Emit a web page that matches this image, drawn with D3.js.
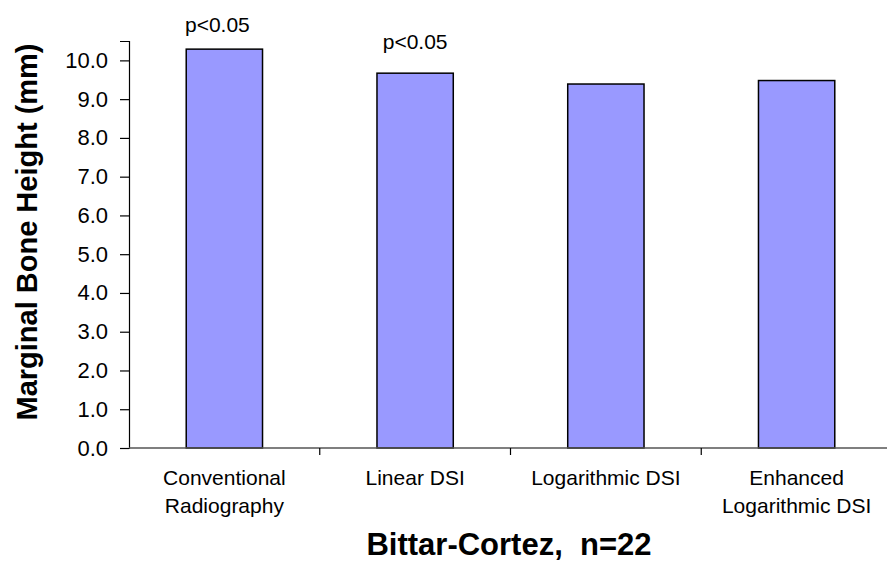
<!DOCTYPE html>
<html>
<head>
<meta charset="utf-8">
<script src="https://cdn.jsdelivr.net/npm/d3@7"></script>
<style>
  body { margin: 0; background: #fff; }
  text { font-family: Arial, "Liberation Sans", sans-serif; fill: #000; }
</style>
</head>
<body>
<svg id="chart"></svg>
<script>
// data
const categories = ["Conventional Radiography", "Linear DSI", "Logarithmic DSI", "Enhanced Logarithmic DSI"]
const categoryLines = [["Conventional", "Radiography"], ["Linear DSI"], ["Logarithmic DSI"], ["Enhanced", "Logarithmic DSI"]]
const heights = [10.29, 9.67, 9.39, 9.48]
const pLabels = ["p<0.05", "p<0.05", "", ""]
const yTicks = [0, 1, 2, 3, 4, 5, 6, 7, 8, 9, 10]

const width = 887
const height = 568
const margin = {top: 41, left: 129, bottom: 120, right: -5}

const svg = d3.select('#chart')
  .attr('width', width)
  .attr('height', height)

const x = d3.scaleBand()
  .domain(categories)
  .range([margin.left, width - margin.right])
  .paddingInner(0.6)
  .paddingOuter(0.3)

const y = d3.scaleLinear()
  .domain([0, 10.5])
  .range([height - margin.bottom, margin.top])

// bars
svg.append('g').selectAll('rect')
  .data(heights)
  .enter()
    .append('rect')
    .attr('x', (d, i) => x(categories[i]))
    .attr('y', d => y(d))
    .attr('width', x.bandwidth())
    .attr('height', d => y(0) - y(d))
    .attr('fill', '#9999ff')
    .attr('stroke', '#000')
    .attr('stroke-width', 1.5)

// y axis
const yAxis = svg.append('g')
  .attr('transform', `translate(${margin.left},0)`)
  .call(d3.axisLeft(y).tickValues(yTicks).tickFormat(d3.format('.1f')).tickSize(9).tickPadding(12))
yAxis.select('.domain').attr('stroke', '#000').attr('stroke-width', 1.2)
yAxis.selectAll('.tick line').attr('stroke', '#000').attr('stroke-width', 1.2)
yAxis.selectAll('.tick text').attr('font-size', 22).attr('font-family', 'Arial, "Liberation Sans", sans-serif')

// x axis: ticks between categories, like the original
const step = x.step()
const xEdges = d3.range(categories.length + 1).map(i => margin.left + i * step)
const xAxis = svg.append('g')
xAxis.append('line')
  .attr('x1', margin.left).attr('x2', width)
  .attr('y1', y(0)).attr('y2', y(0))
  .attr('stroke', '#555').attr('stroke-width', 1.5)
xAxis.selectAll('line.tick')
  .data(xEdges.slice(1))
  .enter()
    .append('line')
    .attr('class', 'tick')
    .attr('x1', d => d).attr('x2', d => d)
    .attr('y1', y(0)).attr('y2', y(0) + 7)
    .attr('stroke', '#000').attr('stroke-width', 1.2)

// category labels
const catText = svg.append('g').selectAll('text')
  .data(categoryLines)
  .enter()
    .append('text')
    .attr('text-anchor', 'middle')
    .attr('font-size', 21)
    .attr('x', (d, i) => x(categories[i]) + x.bandwidth() / 2)
    .attr('y', y(0) + 37)
catText.selectAll('tspan')
  .data(d => d)
  .enter()
    .append('tspan')
    .attr('x', function() { return this.parentNode.getAttribute('x') })
    .attr('dy', (d, i) => i === 0 ? 0 : 27.5)
    .text(d => d)

// significance labels
const pOffset = [17, 24, 20, 20]
svg.append('g').selectAll('text')
  .data(pLabels)
  .enter()
    .append('text')
    .attr('text-anchor', 'middle')
    .attr('font-size', 21)
    .attr('x', (d, i) => x(categories[i]) + x.bandwidth() / 2 - (i === 0 ? 7 : 0))
    .attr('y', (d, i) => y(heights[i]) - pOffset[i])
    .text(d => d)

// axis titles
svg.append('text')
  .attr('transform', 'translate(37,232) rotate(-90)')
  .attr('text-anchor', 'middle')
  .attr('font-size', 29)
  .attr('font-weight', 'bold')
  .text('Marginal Bone Height (mm)')

svg.append('text')
  .attr('x', 509)
  .attr('y', 555)
  .attr('text-anchor', 'middle')
  .attr('font-size', 31)
  .attr('font-weight', 'bold')
  .attr('xml:space', 'preserve')
  .style('white-space', 'pre')
  .text('Bittar-Cortez,  n=22')
</script>
</body>
</html>
